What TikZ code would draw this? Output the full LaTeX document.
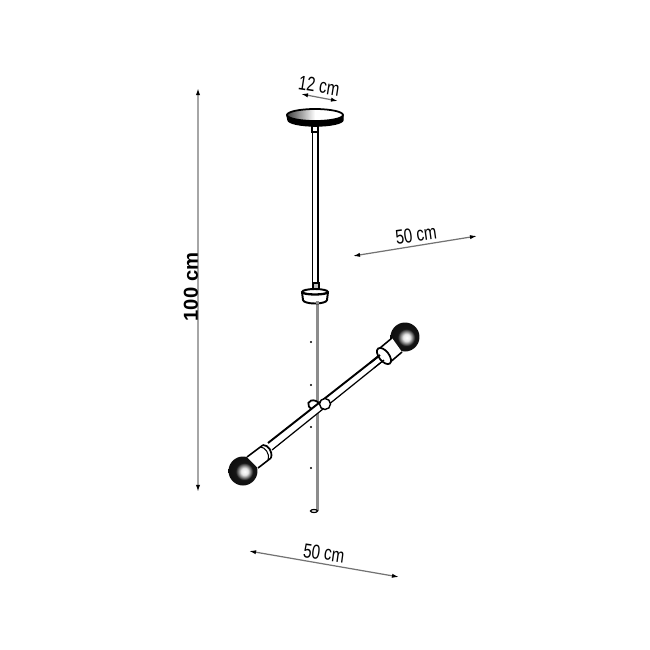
\documentclass[tikz,border=0pt]{standalone}
\usepackage{fontspec}
\setmainfont{Liberation Sans}
\newfontfamily\narrowfont[FakeStretch=0.75]{Liberation Sans}
\usetikzlibrary{arrows.meta, shapes.geometric}
\pgfdeclareradialshading{bulbshade}{\pgfpoint{3bp}{-1bp}}{color(0bp)=(white); color(6bp)=(black!10); color(11bp)=(black!55); color(15bp)=(black!92); color(50bp)=(black)}

\begin{document}
\begin{tikzpicture}[x=0.02cm, y=-0.02cm]

\tikzset{dim/.style = {{Latex[black,length=4pt,width=2.4pt]}-{Latex[black,length=4pt,width=2.4pt]}, draw=black!55, line width=0.7pt}}
\tikzset{dimtext/.style = {inner sep=0pt, font=\narrowfont\fontsize{11.5}{12}\selectfont}}
\tikzset{bulb/.style = {shape=circle, minimum size=0.58cm, inner sep=0pt, shading=bulbshade}}
\tikzset{ring/.style = {shape=ellipse, draw, fill=white, inner sep=0pt, line width=1pt}}
\tikzset{rod/.style = {line width=0.9pt}}
\useasboundingbox (0,0) rectangle (650,650);

%dimensions
\coordinate (h1) at (198,88);
\coordinate (h2) at (198,492);
\coordinate (c1) at (301,94);
\coordinate (c2) at (338,101);
\coordinate (u1) at (353,256);
\coordinate (u2) at (477,236);
\coordinate (w1) at (249,551);
\coordinate (w2) at (399,577);
\draw [dim, draw=black!35, line width=1pt] (h1) -- (h2);
\draw [dim] (c1) -- (c2);
\draw [dim] (u1) -- (u2);
\draw [dim] (w1) -- (w2);
\node[dimtext, rotate=90, font=\bfseries\fontsize{11.5}{12}\selectfont] (t100) at (191,287) {100 cm};
\node[dimtext, rotate=-9] (t12) at (319,86) {12 cm};
\node[dimtext, rotate=8] (t50a) at (416,235) {50 cm};
\node[dimtext, rotate=-8] (t50b) at (324,553) {50 cm};

%hanging rod
\coordinate (r1) at (317.5,300);
\coordinate (r2) at (317.5,511);
\draw [draw=black!45, line width=1.3pt] (r1) -- (r2);
\node[ring, minimum width=0.14cm, minimum height=0.06cm, line width=0.7pt] (rodend) at (314,511) {};
\foreach \y in {342,385,427,468} {
  \fill (311,\y) circle (0.6pt);
}

%ceiling part and cable
\coordinate (s1) at (312.5,125);
\coordinate (s2) at (312.5,285);
\coordinate (s3) at (318,125);
\coordinate (s4) at (318,285);
\draw [rod] (s1) -- (s2);
\draw [rod] (s3) -- (s4);
\draw[fill=black, line width=0.8pt] (287,115) -- (288,120) arc (180:0:27.5 and 6) -- (343,115) -- cycle;
\draw[line width=1pt, left color=black!75, right color=white, middle color=white] (315,115) ellipse (28 and 6);
\draw[fill=white, line width=0.7pt] (312,126) rectangle (318,132);

%small cap on the cable
\draw[fill=black!25, line width=0.8pt] (313,283) rectangle (319,290);
\draw[fill=white, line width=1.1pt] (302,292) -- (303,300) arc (180:0:12 and 3.5) -- (328,292) arc (0:-180:13 and 3) -- cycle;
\draw[line width=1.3pt] (302,292) arc (180:0:13 and 2.5);
\draw[draw=black!45, line width=1.3pt] (317.5,301) -- (317.5,304);

%arm
\coordinate (a1) at (268,443);
\coordinate (a2) at (380,355);
\coordinate (b1) at (272,450);
\coordinate (b2) at (384,360);
\draw[fill=white, line width=1pt, rotate around={-20:(314,405)}] (314,405) ellipse (6 and 4.5);
\fill[white] (a1) -- (a2) -- (b2) -- (b1) -- cycle;
\draw [rod, line width=1.1pt] (a1) -- (a2);
\draw [rod, line width=0.7pt] (b1) -- (b2);

%joint on the arm
\node[ring, minimum size=0.22cm, shape=circle, line width=0.8pt] (joint) at (325,404) {};

%upper lamp
\node[bulb] (bulbup) at (405,337) {};
\fill[white] (380,348) -- (388,364) -- (402,352) -- (392,338) -- cycle;
\draw[rod] (380,348) -- (392,338);
\draw[rod] (388,364) -- (402,352);
\draw[fill=white, line width=1pt, rotate around={38:(384,356)}] (384,356) ellipse (5 and 9.5);
\draw [rod, line width=1.1pt] (370,363) -- (a2);
\draw [rod, line width=0.7pt] (374,368) -- (b2);

%lower lamp
\node[bulb] (bulbdown) at (243,471) {};
\fill[white] (247,457) -- (263,445) -- (272,450) -- (271,458) -- (258,468) -- cycle;
\draw[rod] (247,457) -- (263,445);
\draw[rod] (258,468) -- (271,458);
\draw[line width=1pt] (263,445) .. controls (268,445) and (273,451) .. (271,458);
\draw[line width=0.6pt] (260,447) .. controls (265,447) and (270,453) .. (268,460);

\end{tikzpicture}
\end{document}
